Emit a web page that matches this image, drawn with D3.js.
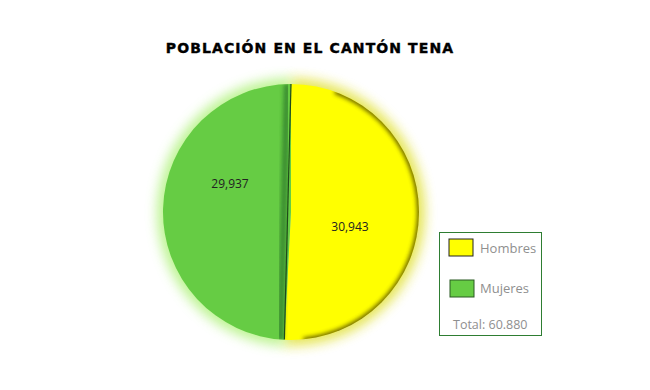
<!DOCTYPE html>
<html>
<head>
<meta charset="utf-8">
<script src="https://cdn.jsdelivr.net/npm/d3@7"></script>
<style>
  body { margin: 0; background: #fff; }
  svg { display: block; }
</style>
</head>
<body>
<svg id="chart" width="650" height="390"></svg>
<script>
'use strict';

let categories = ['Hombres', 'Mujeres']
let values = [30943, 29937]
let colors = ['#ffff00', '#66cc44']
let glowColors = ['#dede20', '#a8f070']
let titleText = 'POBLACIÓN EN EL CANTÓN TENA'
let totalLabel = 'Total: 60.880'

let cx = 291
let cy = 212
let radius = 128

const svg = d3.select('#chart')
const defs = svg.append('defs')

// soft outer glow
let glow = defs.append('filter')
    .attr('id', 'glow')
    .attr('x', '-20%').attr('y', '-20%')
    .attr('width', '140%').attr('height', '140%')
glow.append('feGaussianBlur').attr('stdDeviation', 6)

// inner edge darkening for the slices
let inner = defs.append('filter').attr('id', 'inner')
inner.append('feGaussianBlur').attr('stdDeviation', 2)

defs.append('clipPath').attr('id', 'pieClip')
    .append('circle').attr('cx', cx).attr('cy', cy).attr('r', radius)

svg.append('text')
    .attr('x', 310)
    .attr('y', 53)
    .attr('text-anchor', 'middle')
    .attr('font-family', 'DejaVu Sans')
    .attr('font-weight', 'bold')
    .attr('font-size', 14)
    .attr('letter-spacing', 1.1)
    .attr('stroke', '#000')
    .attr('stroke-width', 0.4)
    .attr('fill', '#000')
    .text(titleText)

let pie = d3.pie().sort(null).value(d => d)
let arcs = pie(values)

let arc = d3.arc().innerRadius(0).outerRadius(radius)
let glowArc = d3.arc().innerRadius(0).outerRadius(radius + 6)
let edgeArc = d3.arc().innerRadius(radius - 2).outerRadius(radius + 4)

let g = svg.append('g').attr('transform', 'translate(' + cx + ',' + cy + ')')

g.selectAll('.glow')
    .data(arcs)
    .join('path')
    .attr('class', 'glow')
    .attr('d', glowArc)
    .attr('fill', (d, i) => glowColors[i])
    .attr('opacity', 0.75)
    .attr('filter', 'url(#glow)')

g.selectAll('.slice')
    .data(arcs)
    .join('path')
    .attr('class', 'slice')
    .attr('d', arc)
    .attr('fill', (d, i) => colors[i])

// shading, kept inside the pie
let shade = svg.append('g')
    .attr('clip-path', 'url(#pieClip)')
    .append('g')
    .attr('transform', 'translate(' + cx + ',' + cy + ')')

// dark rim on the yellow slice, strongest on the right side
shade.append('path')
    .attr('d', edgeArc({ startAngle: arcs[0].startAngle + 0.35, endAngle: arcs[0].endAngle - 0.15 }))
    .attr('fill', '#4a4000')
    .attr('opacity', 0.8)
    .attr('filter', 'url(#inner)')

// darker strip along the green side of the boundary
let b = arcs[0].endAngle
let bx = Math.sin(b) * radius
let by = -Math.cos(b) * radius
shade.append('line')
    .attr('x1', 0).attr('y1', -radius)
    .attr('x2', bx).attr('y2', by)
    .attr('transform', 'translate(-4,0)')
    .attr('stroke', '#2f7a2a')
    .attr('stroke-width', 6)
    .attr('opacity', 0.8)
    .attr('filter', 'url(#inner)')
shade.append('line')
    .attr('x1', 0).attr('y1', -radius)
    .attr('x2', bx).attr('y2', by)
    .attr('stroke', '#1f4a1a')
    .attr('stroke-width', 1.2)

// value labels
let labelPos = [[59, 16], [-61, -27]]
g.selectAll('.val')
    .data(arcs)
    .join('text')
    .attr('class', 'val')
    .attr('x', (d, i) => labelPos[i][0])
    .attr('y', (d, i) => labelPos[i][1])
    .attr('text-anchor', 'middle')
    .attr('dominant-baseline', 'middle')
    .attr('font-family', 'Open Sans')
    .attr('font-size', 12)
    .attr('fill', '#222')
    .text(d => d3.format(',')(d.data))

// legend
let lg = svg.append('g').attr('transform', 'translate(439,232)')
lg.append('rect')
    .attr('x', 0.5).attr('y', 0.5)
    .attr('width', 102).attr('height', 103)
    .attr('fill', '#fff')
    .attr('stroke', '#2e7d32')
    .attr('stroke-width', 1)

let items = lg.selectAll('.item')
    .data(categories)
    .join('g')
    .attr('class', 'item')
    .attr('transform', (d, i) => 'translate(0,' + (7 + i * 40) + ')')

items.append('rect')
    .attr('x', (d, i) => 10 + i)
    .attr('y', (d, i) => i)
    .attr('width', 24).attr('height', 17)
    .attr('fill', (d, i) => colors[i])
    .attr('stroke', (d, i) => i === 0 ? '#222' : '#2a5a22')
    .attr('stroke-width', 1)

items.append('text')
    .attr('x', 41)
    .attr('y', 14)
    .attr('font-family', 'Open Sans')
    .attr('font-size', 13)
    .attr('fill', '#8f8f8f')
    .text(d => d)

lg.append('text')
    .attr('x', 14)
    .attr('y', 97)
    .attr('font-family', 'Open Sans')
    .attr('font-size', 12.5)
    .attr('fill', '#8f8f8f')
    .text(totalLabel)
</script>
</body>
</html>
